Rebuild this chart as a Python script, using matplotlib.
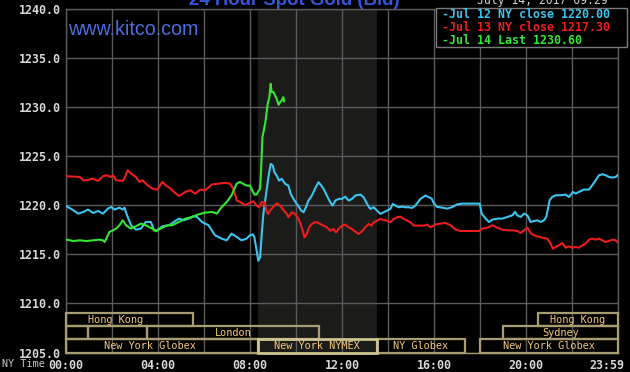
import matplotlib
matplotlib.use("Agg")
import matplotlib.pyplot as plt
from matplotlib.patches import Rectangle
from matplotlib.transforms import ScaledTranslation

# ---------------- data ----------------
cyan_t = [0.03, 0.32, 0.53, 0.75, 0.96, 1.18, 1.39, 1.61, 1.82, 1.97, 2.11, 2.32, 2.47, 2.54,
          2.68, 2.83, 3.04, 3.26, 3.47, 3.69, 3.83, 3.97, 4.19, 4.48, 4.69, 4.91, 5.12, 5.34,
          5.55, 5.70, 5.91, 6.20, 6.48, 6.77, 6.99, 7.20, 7.42, 7.63, 7.85, 7.99, 8.13, 8.19,
          8.29, 8.36, 8.44, 8.51, 8.58, 8.68, 8.80, 8.90, 8.99, 9.06, 9.16, 9.26, 9.38, 9.53,
          9.67, 9.77, 9.89, 10.03, 10.14, 10.22, 10.33, 10.43, 10.54, 10.69, 10.86, 10.98,
          11.10, 11.20, 11.34, 11.49, 11.59, 11.71, 11.85, 12.00, 12.14, 12.29, 12.43, 12.58,
          12.80, 12.94, 13.09, 13.23, 13.38, 13.52, 13.67, 13.81, 13.96, 14.10, 14.21, 14.32,
          14.47, 14.61, 14.76, 14.90, 15.05, 15.19, 15.41, 15.63, 15.78, 15.90, 16.00, 16.14,
          16.36, 16.58, 16.80, 17.01, 17.23, 17.52, 17.81, 17.99, 18.07, 18.25, 18.39, 18.54,
          18.75, 18.97, 19.19, 19.41, 19.52, 19.62, 19.77, 19.91, 20.06, 20.20, 20.35, 20.49,
          20.64, 20.78, 20.88, 21.03, 21.14, 21.29, 21.51, 21.72, 21.87, 22.04, 22.16, 22.30,
          22.52, 22.74, 22.88, 23.03, 23.17, 23.32, 23.46, 23.61, 23.75, 23.90, 23.98]
cyan_v = [1219.90, 1219.49, 1219.15, 1219.32, 1219.56, 1219.22, 1219.42, 1219.15, 1219.66,
          1219.83, 1219.56, 1219.76, 1219.56, 1219.76, 1218.81, 1217.96, 1217.52, 1217.62,
          1218.30, 1218.30, 1217.45, 1217.45, 1217.86, 1217.96, 1218.30, 1218.64, 1218.47,
          1218.64, 1218.88, 1218.81, 1218.30, 1217.96, 1216.94, 1216.60, 1216.43, 1217.11,
          1216.77, 1216.43, 1216.60, 1216.94, 1217.04, 1216.73, 1215.37, 1214.35, 1214.69,
          1217.07, 1219.12, 1220.82, 1222.86, 1224.22, 1224.05, 1223.37, 1223.03, 1222.52,
          1222.69, 1222.18, 1222.01, 1221.16, 1220.65, 1220.14, 1219.80, 1219.46, 1219.29,
          1219.80, 1220.48, 1220.99, 1221.84, 1222.35, 1222.01, 1221.67, 1220.99, 1220.31,
          1219.97, 1220.48, 1220.65, 1220.65, 1220.88, 1220.48, 1220.65, 1220.99, 1221.09,
          1220.82, 1220.14, 1219.63, 1219.80, 1219.46, 1219.12, 1219.29, 1219.46, 1219.63,
          1220.14, 1219.97, 1219.80, 1219.86, 1219.80, 1219.80, 1219.73, 1219.97, 1220.65,
          1220.99, 1220.82, 1220.68, 1220.17, 1219.83, 1219.76, 1219.66, 1219.83, 1220.10,
          1220.17, 1220.17, 1220.17, 1220.17, 1219.15, 1218.64, 1218.30, 1218.54, 1218.64,
          1218.64, 1218.81, 1218.98, 1219.32, 1218.98, 1218.81, 1219.15, 1218.98, 1218.30,
          1218.40, 1218.47, 1218.30, 1218.47, 1218.81, 1220.51, 1220.85, 1221.02, 1221.02,
          1221.09, 1220.85, 1221.36, 1221.19, 1221.36, 1221.60, 1221.60, 1222.04, 1222.55,
          1223.06, 1223.16, 1223.06, 1222.89, 1222.82, 1222.89, 1223.06]

red_t = [0.03, 0.60, 0.75, 0.89, 1.18, 1.39, 1.61, 1.75, 1.97, 2.04, 2.18, 2.47, 2.54, 2.68,
         2.83, 3.04, 3.19, 3.33, 3.54, 3.76, 3.97, 4.19, 4.33, 4.55, 4.69, 4.91, 5.19, 5.41,
         5.62, 5.84, 6.05, 6.34, 6.63, 6.92, 7.13, 7.27, 7.42, 7.56, 7.78, 7.99, 8.15, 8.29,
         8.39, 8.51, 8.63, 8.73, 8.80, 8.87, 9.02, 9.16, 9.31, 9.45, 9.60, 9.67, 9.82, 9.96,
         10.11, 10.25, 10.37, 10.47, 10.57, 10.69, 10.81, 10.91, 11.05, 11.20, 11.34, 11.49,
         11.63, 11.74, 11.85, 12.00, 12.14, 12.29, 12.43, 12.58, 12.72, 12.87, 13.01, 13.16,
         13.28, 13.38, 13.52, 13.67, 13.81, 13.96, 14.10, 14.25, 14.40, 14.54, 14.69, 14.83,
         14.98, 15.12, 15.27, 15.41, 15.56, 15.70, 15.85, 15.99, 16.07, 16.29, 16.51, 16.72,
         16.94, 17.16, 17.38, 17.67, 17.96, 18.10, 18.32, 18.54, 18.75, 18.97, 19.19, 19.41,
         19.62, 19.77, 19.91, 20.06, 20.20, 20.35, 20.49, 20.71, 20.93, 21.07, 21.17, 21.29,
         21.43, 21.58, 21.72, 21.87, 22.01, 22.16, 22.30, 22.45, 22.59, 22.74, 22.88, 23.03,
         23.17, 23.32, 23.46, 23.61, 23.75, 23.90, 23.98]
red_v = [1222.96, 1222.89, 1222.55, 1222.55, 1222.72, 1222.48, 1222.96, 1223.06, 1222.89,
         1223.06, 1222.55, 1222.48, 1222.72, 1223.57, 1223.23, 1222.89, 1222.38, 1222.55,
         1222.04, 1221.70, 1221.60, 1222.38, 1222.04, 1221.70, 1221.36, 1220.95, 1221.36,
         1221.53, 1221.19, 1221.60, 1221.53, 1222.11, 1222.21, 1222.28, 1222.21, 1221.70,
         1220.51, 1220.34, 1220.00, 1220.24, 1220.41, 1219.97, 1219.80, 1220.31, 1220.31,
         1219.29, 1219.12, 1219.46, 1219.86, 1220.20, 1219.97, 1219.52, 1219.12, 1218.78,
         1219.29, 1219.12, 1218.61, 1217.76, 1216.73, 1217.07, 1217.76, 1218.10, 1218.27,
         1218.27, 1218.10, 1217.93, 1217.76, 1217.41, 1217.59, 1217.24, 1217.59, 1217.93,
         1218.03, 1217.76, 1217.59, 1217.31, 1217.07, 1217.35, 1217.76, 1218.10, 1217.93,
         1218.27, 1218.44, 1218.61, 1218.50, 1218.44, 1218.27, 1218.61, 1218.78, 1218.84,
         1218.61, 1218.44, 1218.27, 1217.93, 1217.93, 1217.93, 1217.93, 1218.03, 1217.76,
         1217.93, 1218.06, 1218.13, 1218.20, 1217.96, 1217.52, 1217.38, 1217.38, 1217.38,
         1217.38, 1217.62, 1217.72, 1217.96, 1217.72, 1217.52, 1217.45, 1217.45, 1217.38,
         1217.18, 1217.45, 1217.72, 1217.18, 1216.94, 1216.84, 1216.70, 1216.60, 1216.09,
         1215.58, 1215.75, 1215.92, 1216.16, 1215.68, 1215.82, 1215.68, 1215.75, 1215.68,
         1215.92, 1216.09, 1216.50, 1216.60, 1216.50, 1216.60, 1216.43, 1216.26, 1216.36,
         1216.50, 1216.43, 1216.26]

green_t = [0.03, 0.32, 0.60, 0.89, 1.18, 1.46, 1.61, 1.68, 1.89, 2.18, 2.32, 2.47, 2.61, 2.83,
           3.04, 3.26, 3.47, 3.76, 3.90, 4.19, 4.40, 4.62, 4.91, 5.19, 5.48, 5.77, 6.05, 6.34,
           6.56, 6.77, 6.99, 7.20, 7.42, 7.56, 7.71, 7.85, 8.00, 8.10, 8.19, 8.29, 8.36, 8.44,
           8.48, 8.54, 8.60, 8.68, 8.77, 8.84, 8.90, 8.94, 9.02, 9.09, 9.16, 9.24, 9.31, 9.38,
           9.45, 9.48]
green_v = [1216.50, 1216.36, 1216.43, 1216.36, 1216.43, 1216.50, 1216.43, 1216.26, 1217.28,
           1217.62, 1217.96, 1218.47, 1217.96, 1217.62, 1217.86, 1218.13, 1217.96, 1217.62,
           1217.35, 1217.72, 1217.96, 1217.96, 1218.30, 1218.64, 1218.81, 1219.08, 1219.25,
           1219.32, 1219.15, 1219.83, 1220.34, 1221.02, 1222.21, 1222.38, 1222.18, 1222.01,
           1222.01, 1221.50, 1221.09, 1221.09, 1221.43, 1221.67, 1223.54, 1226.94, 1227.62,
           1228.64, 1230.34, 1231.02, 1232.38, 1231.53, 1231.53, 1231.19, 1230.85, 1230.24,
           1230.51, 1230.68, 1231.02, 1230.60]

legend_labels = ["-Jul 12 NY close 1220.00", "-Jul 13 NY close 1217.30", "-Jul 14 Last 1230.60"]

sess_names = ["Hong Kong", "Hong Kong", "", "", "London", "Sydney",
              "New York Globex", "New York NYMEX", "NY Globex", "New York Globex"]
sess_start = [-1.18, 20.5, 0.0, 0.96, 3.5, 19.0, -0.99, 8.33, 13.5, 18.0]
sess_end = [5.5, 24.0, 0.96, 3.5, 11.0, 24.0, 8.33, 13.5, 17.33, 24.0]
sess_row = [2, 2, 1, 1, 1, 1, 0, 0, 0, 0]   # 0 = bottom row

nymex_span = (8.33, 13.5)

yticks = [1205, 1210, 1215, 1220, 1225, 1230, 1235, 1240]
xticks = [0, 4, 8, 12, 16, 20, 24]
xticklabels = ["00:00", "04:00", "08:00", "12:00", "16:00", "20:00", "23:59"]

# ---------------- style ----------------
CYAN = "#3cc4ee"
RED = "#ee1c1c"
GREEN = "#33e633"
GRID = "#5a5a5a"
TAN = "#a89c74"
TAN_BRIGHT = "#ccc490"
SESS_TXT = "#f2c878"
TICK_TXT = "#d8d8d8"
MONO = "DejaVu Sans Mono"

W, H = 630, 372
fig = plt.figure(figsize=(W / 100, H / 100), dpi=100, facecolor="black")
ax = fig.add_axes([66 / W, 1 - 352.5 / H, 552 / W, 343.5 / H])
ax.set_facecolor("black")
ax.set_xlim(0, 24)
ax.set_ylim(1205, 1240)

ax.axvspan(*nymex_span, color="#1b1b19", zorder=0, lw=0)

ax.set_xticks(xticks)
ax.set_xticks(range(0, 25, 2), minor=True)
ax.set_yticks(yticks)
ax.set_xticklabels(xticklabels)
ax.set_yticklabels([f"{v:.1f}" for v in yticks])
ax.grid(True, which="both", color=GRID, lw=1.0, zorder=1)
ax.tick_params(which="both", length=0, colors=TICK_TXT)
ax.tick_params(axis="x", pad=4.5)
ax.tick_params(axis="y", pad=3.5)
for lab in ax.get_xticklabels() + ax.get_yticklabels():
    lab.set_fontfamily(MONO)
    lab.set_fontweight("bold")
    lab.set_fontsize(8.4)
    lab.set_color(TICK_TXT)
last = ax.get_xticklabels()[-1]
last.set_horizontalalignment("right")
last.set_transform(last.get_transform() + ScaledTranslation(6 / 100, 0, fig.dpi_scale_trans))
for s in ax.spines.values():
    s.set_color(GRID)
    s.set_linewidth(1.0)
ax.spines["bottom"].set_color(TAN)

# session bars
row_h = 13 / 9.8
for name, s0, s1, r in zip(sess_names, sess_start, sess_end, sess_row):
    x0 = max(s0, 0.0)
    x1 = min(s1, 24.0)
    y0 = 1205 + r * row_h
    nymex = name == "New York NYMEX"
    ax.add_patch(Rectangle((x0, y0), x1 - x0, row_h, fill=False,
                           edgecolor=TAN_BRIGHT if nymex else TAN,
                           lw=2.0 if nymex else 1.6, zorder=4 if nymex else 3, clip_on=False))
    if name:
        ax.text((s0 + s1) / 2, y0 + row_h / 2, name, ha="center", va="center",
                family=MONO, fontsize=7.4, color=SESS_TXT, zorder=5)

ax.plot(cyan_t, cyan_v, color=CYAN, lw=1.5, zorder=6)
ax.plot(red_t, red_v, color=RED, lw=1.5, zorder=6)
ax.plot(green_t, green_v, color=GREEN, lw=1.5, zorder=7)

# legend box
fig.add_artist(Rectangle((436 / W, 1 - 47 / H), 191 / W, 39 / H, transform=fig.transFigure,
                         facecolor="black", edgecolor="#7a7a7a", lw=1.0, zorder=10))
for lab, col, yy in zip(legend_labels, [CYAN, RED, GREEN], [15, 27.5, 40]):
    fig.text(442 / W, 1 - yy / H, lab, color=col, family=MONO, fontweight="bold",
             fontsize=8.4, ha="left", va="center", zorder=11)

# texts
fig.text(294.5 / W, 1 - 5 / H, "24 Hour Spot Gold (Bid)", color="#3556dc",
         family="Liberation Sans", fontweight="bold", fontsize=13.4, ha="center", va="baseline")
fig.text(608 / W, 1 - 4 / H, "July 14, 2017 09:29", color="#d0d0d0", family=MONO,
         fontsize=8.3, ha="right", va="baseline")
fig.text(68 / W, 1 - 35 / H, "www.kitco.com", color="#4a6ee0", family="Liberation Sans",
         fontsize=14.2, ha="left", va="baseline", zorder=8)
fig.text(2 / W, 1 - 364 / H, "NY Time", color="#c8c8c8", family=MONO, fontsize=7.3,
         ha="left", va="center")

fig.savefig("out.png", dpi=100, facecolor="black")
